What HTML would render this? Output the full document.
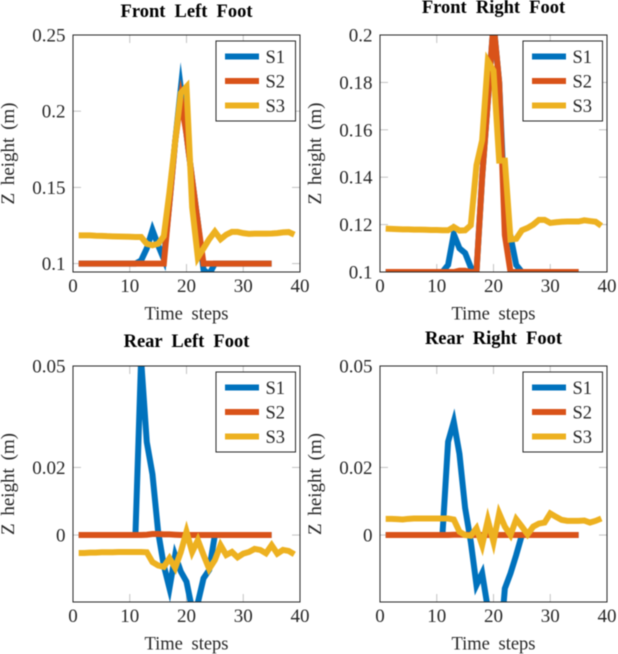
<!DOCTYPE html>
<html lang="en">
<head>
<meta charset="utf-8">
<title>Foot Z height charts</title>
<style>
html,body{margin:0;padding:0;background:#fff;width:618px;height:654px;overflow:hidden}
svg{display:block;filter:blur(.4px)}
text{font-family:"Liberation Serif",serif;fill:#262626}
</style>
</head>
<body>
<svg id="chart" width="618" height="654" viewBox="0 0 618 654" xmlns="http://www.w3.org/2000/svg"></svg>
<script>
// Shared labels
const seriesNames = ['S1', 'S2', 'S3'];
const seriesColors = ['#0072BD', '#D95319', '#EDB120'];
const xTicks = [0, 10, 20, 30, 40];
const xRange = [0, 40];

// Front left foot (values are for time steps 1, 2, 3, ...)
const frontLeftS1 = [.1,.1,.1,.1,.1,.1,.1,.1,.1,.1,.1,.102,.11,.122,.112,.103,.14,.18,.215,.185,.155,.127,.096,.093,.1,.1,.1,.1,.1,.1,.1,.1,.1,.1,.1];
const frontLeftS2 = [.1,.1,.1,.1,.1,.1,.1,.1,.1,.1,.1,.1,.1,.1,.1,.1,.14,.18,.208,.185,.155,.127,.1,.1,.1,.1,.1,.1,.1,.1,.1,.1,.1,.1,.1];
const frontLeftS3 = [.1185,.1185,.1185,.1183,.1182,.118,.1179,.1178,.1177,.1176,.1175,.1175,.113,.112,.113,.118,.147,.18,.212,.216,.137,.104,.11,.116,.121,.116,.119,.1208,.1208,.12,.1195,.1197,.1197,.1197,.1198,.12,.1205,.1207,.119];
const frontLeftTicks = [0.1, 0.15, 0.2, 0.25];
const frontLeftTickLabels = ['0.1', '0.15', '0.2', '0.25'];
const frontLeftRange = [0.0945, 0.25];

// Front right foot
const frontRightS1 = [.1,.1,.1,.1,.1,.1,.1,.1,.1,.1,.1,.103,.116,.11,.108,.102,.1,.14,.172,.205,.18,.125,.115,.103,.1,.1,.1,.1,.1,.1,.1,.1,.1,.1,.1];
const frontRightS2 = [.1,.1,.1,.1,.1,.1,.1,.1,.1,.1,.1,.1,.1,.1005,.1005,.1,.1,.14,.172,.205,.18,.1156,.1,.1,.1,.1,.1,.1,.1,.1,.1,.1,.1,.1,.1];
const frontRightS3 = [.1183,.1182,.1181,.118,.118,.1179,.1179,.1178,.1177,.1177,.1176,.1176,.119,.1175,.1176,.1197,.145,.1556,.189,.185,.147,.147,.1137,.114,.1176,.1186,.12,.122,.122,.1207,.121,.1212,.1213,.1213,.1213,.1218,.1215,.1212,.1195];
const frontRightTicks = [0.1, 0.12, 0.14, 0.16, 0.18, 0.2];
const frontRightTickLabels = ['0.1', '0.12', '0.14', '0.16', '0.18', '0.2'];
const frontRightRange = [0.1, 0.2];

// Rear left foot
const rearLeftS1 = [0,0,0,0,0,0,0,0,0,0,0,.052,.0275,.018,.001,-.009,-.0157,-.006,-.0108,-.0138,-.022,-.02,-.0128,-.0103,0,0,0,0,0,0,0,0,0,0,0];
const rearLeftS2 = [0,0,0,0,0,0,0,0,0,0,0,0,.0001,.0003,.0003,.0002,.0002,.0001,0,0,0,0,0,0,0,0,0,0,0,0,0,0,0,0,0];
const rearLeftS3 = [-.0053,-.0053,-.0052,-.0052,-.0051,-.0051,-.0051,-.005,-.005,-.005,-.005,-.005,-.0051,-.008,-.009,-.0094,-.0069,-.0097,-.005,.001,-.005,-.0015,-.0059,-.01,-.0074,-.003,-.0059,-.005,-.0066,-.0055,-.005,-.0041,-.0044,-.0054,-.003,-.0055,-.0044,-.0047,-.0057];
const rearLeftTicks = [0, 0.02, 0.05];
const rearLeftTickLabels = ['0', '0.02', '0.05'];
const rearLeftRange = [-0.0198, 0.05];

// Rear right foot
const rearRightS1 = [0,0,0,0,0,0,0,0,0,0,0,.0276,.0335,.024,.008,-.002,-.0148,-.0113,-.0217,-.036,-.036,-.0158,-.0113,-.0059,0,0,0,0,0,0,0,0,0,0,0];
const rearRightS2 = [0,0,0,0,0,0,0,0,0,0,0,0,.0001,.0001,.0001,0,0,0,0,0,0,0,0,0,0,0,0,0,0,0,0,0,0,0,0];
const rearRightS3 = [.0048,.0048,.0047,.0046,.0048,.0049,.0049,.0049,.0049,.0049,.0049,.0049,.0046,.001,0,-.0002,.002,-.003,.0044,-.002,.0064,.0025,0,.0047,.0025,.0002,.0025,.0034,.0037,.0064,.0054,.0045,.0042,.0042,.0042,.0043,.0037,.0042,.0049];
const rearRightTicks = [0, 0.02, 0.05];
const rearRightTickLabels = ['0', '0.02', '0.05'];
const rearRightRange = [-0.0198, 0.05];

const svg = document.getElementById('chart');
const NS = 'http://www.w3.org/2000/svg';

function make(parent, tag, attrs, text) {
  const el = document.createElementNS(NS, tag);
  for (const k in attrs) el.setAttribute(k, attrs[k]);
  if (text !== undefined) el.textContent = text;
  parent.appendChild(el);
  return el;
}

function drawPanel(cfg) {
  const g = make(svg, 'g', {});
  
  

  const L = cfg.left, R = cfg.left + 227, T = cfg.top, B = cfg.bottom;
  const xScale = v => L + (v - xRange[0]) / (xRange[1] - xRange[0]) * (R - L);
  const yScale = v => B - (v - cfg.range[0]) / (cfg.range[1] - cfg.range[0]) * (B - T);

  const title = make(g, 'text', {x: (L + R) / 2, y: cfg.titleY, 'text-anchor': 'middle', 'font-size': 18.5, 'font-weight': 'bold', 'word-spacing': '4.5px', style: 'fill:#000'}, cfg.title);
  
  

  // ticks
  const tickGroup = make(g, 'g', {stroke: '#b4b4b4', 'stroke-width': 0.8, fill: 'none'});
  
  
  xTicks.forEach(v => {
    const x = xScale(v);
    make(tickGroup, 'line', {x1: x, x2: x, y1: T, y2: T + 8});
    make(tickGroup, 'line', {x1: x, x2: x, y1: B, y2: B - 8});
  });
  cfg.ticks.forEach(v => {
    const y = yScale(v);
    make(tickGroup, 'line', {x1: L, x2: L + 8, y1: y, y2: y});
    make(tickGroup, 'line', {x1: R, x2: R - 8, y1: y, y2: y});
  });

  // series
  const clipId = cfg.key + '-clip';
  const defs = make(g, 'defs', {});
  const clip = make(defs, 'clipPath', {id: clipId});
  make(clip, 'rect', {x: L, y: T, width: R - L, height: B - T});
  const seriesGroup = make(g, 'g', {'clip-path': 'url(#' + clipId + ')'});
  cfg.series.forEach((values, i) => {
    const pts = values.map((v, n) => xScale(n + 1).toFixed(2) + ',' + yScale(v).toFixed(2)).join(' ');
    const line = make(seriesGroup, 'polyline', {points: pts, fill: 'none', stroke: seriesColors[i], 'stroke-width': 6, 'stroke-linejoin': 'miter', 'stroke-miterlimit': 10});
    
    
  });

  // axis frame
  const frame = make(g, 'rect', {x: L, y: T, width: R - L, height: B - T, fill: 'none', stroke: '#262626', 'stroke-width': 1});
  
  

  // tick labels
  xTicks.forEach(v => {
    const label = make(g, 'text', {x: xScale(v), y: B + 20, 'text-anchor': 'middle', 'font-size': 19}, String(v));
    
    
  });
  cfg.ticks.forEach((v, i) => {
    const label = make(g, 'text', {x: L - 7.5, y: yScale(v) + 6.5, 'text-anchor': 'end', 'font-size': 19}, cfg.tickLabels[i]);
    
    
  });

  // axis titles
  const xTitle = make(g, 'text', {x: (L + R) / 2, y: B + 47.5, 'text-anchor': 'middle', 'font-size': 18.5, 'word-spacing': '4px'}, 'Time steps');
  
  
  const yx = L - 59, yy = (T + B) / 2;
  const yTitle = make(g, 'text', {x: yx, y: yy, 'text-anchor': 'middle', 'font-size': 19, 'word-spacing': '3px', transform: 'rotate(-90 ' + yx + ' ' + yy + ')'}, 'Z height (m)');
  
  

  // legend
  const lx = R - 84, ly = T + 6;
  const legend = make(g, 'g', {});
  
  
  make(legend, 'rect', {x: lx, y: ly, width: 79.5, height: 80, fill: '#fff', stroke: '#262626', 'stroke-width': 1});
  seriesNames.forEach((name, i) => {
    const y = ly + 15.5 + i * 24.5;
    const entry = make(legend, 'g', {});
    
    
    make(entry, 'line', {x1: lx + 9, x2: lx + 43, y1: y, y2: y, stroke: seriesColors[i], 'stroke-width': 6});
    make(entry, 'text', {x: lx + 49.5, y: y + 6.5, 'font-size': 18.5}, name);
  });
}

drawPanel({key: 'front-left', title: 'Front Left Foot', left: 73, top: 35, bottom: 272, titleY: 17,
  range: frontLeftRange, ticks: frontLeftTicks, tickLabels: frontLeftTickLabels, series: [frontLeftS1, frontLeftS2, frontLeftS3]});
drawPanel({key: 'front-right', title: 'Front Right Foot', left: 380, top: 35, bottom: 272, titleY: 13,
  range: frontRightRange, ticks: frontRightTicks, tickLabels: frontRightTickLabels, series: [frontRightS1, frontRightS2, frontRightS3]});
drawPanel({key: 'rear-left', title: 'Rear Left Foot', left: 73, top: 366, bottom: 602, titleY: 347,
  range: rearLeftRange, ticks: rearLeftTicks, tickLabels: rearLeftTickLabels, series: [rearLeftS1, rearLeftS2, rearLeftS3]});
drawPanel({key: 'rear-right', title: 'Rear Right Foot', left: 380, top: 366, bottom: 602, titleY: 344,
  range: rearRightRange, ticks: rearRightTicks, tickLabels: rearRightTickLabels, series: [rearRightS1, rearRightS2, rearRightS3]});
</script>
</body>
</html>
